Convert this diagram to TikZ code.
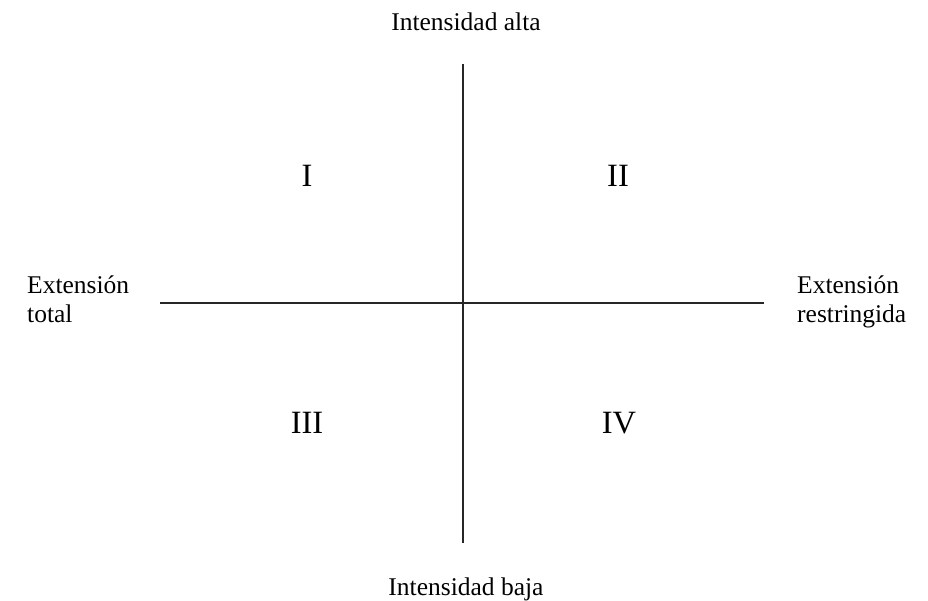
\documentclass[tikz,border=0pt]{standalone}
\usepackage{fontspec}
\setmainfont{Liberation Serif}
\begin{document}
\begin{tikzpicture}[x=1pt,y=-1pt,
  lbl/.style={inner sep=0pt,font=\fontsize{25.5}{29}\selectfont},
  num/.style={inner sep=0pt,anchor=base,font=\fontsize{32.5}{36}\selectfont},
  axis/.style={line width=1.2pt,black!85}]
\useasboundingbox (0,0) rectangle (928,600);
\coordinate (vt) at (463,64);
\coordinate (vb) at (463,543);
\coordinate (hl) at (160,303);
\coordinate (hr) at (764,303);
\draw[axis] (vt) -- (vb);
\draw[axis] (hl) -- (hr);
\node[lbl,anchor=base] (top) at (466,30) {Intensidad alta};
\node[lbl,anchor=base] (bot) at (466,595) {Intensidad baja};
\node[lbl,anchor=base west] (l1) at (27,293) {Extensión};
\node[lbl,anchor=base west] (l2) at (27,322) {total};
\node[lbl,anchor=base west] (r1) at (797,293) {Extensión};
\node[lbl,anchor=base west] (r2) at (797,322) {restringida};
\node[num] (n1) at (307,186) {I};
\node[num] (n2) at (618,186) {II};
\node[num] (n3) at (307,433) {III};
\node[num] (n4) at (619,433) {IV};
\end{tikzpicture}
\end{document}
